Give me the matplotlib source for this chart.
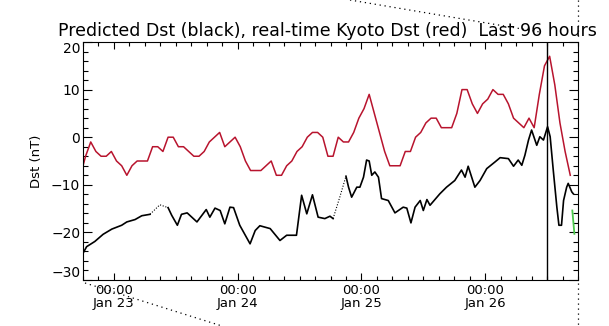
import numpy as np
import matplotlib
matplotlib.use("Agg")
import matplotlib.pyplot as plt
from matplotlib.ticker import FixedLocator, MultipleLocator
from matplotlib.lines import Line2D

# hours since Jan 22 18:00 UT
kyoto_hours = np.arange(-1, 95) + 0.5
kyoto_dst = [-8, -4, -1, -3, -4, -4, -3, -5, -6, -8, -6, -5, -5, -5, -2, -2,
             -3, 0, 0, -2, -2, -3, -4, -4, -3, -1, 0, 1, -2, -1, 0, -2,
             -5, -7, -7, -7, -6, -5, -8, -8, -6, -5, -3, -2, 0, 1, 1, 0,
             -4, -4, 0, -1, -1, 1, 4, 6, 9, 5, 1, -3, -6, -6, -6, -3,
             -3, 0, 1, 3, 4, 4, 2, 2, 2, 5, 10, 10, 7, 5, 7, 8,
             10, 9, 9, 7, 4, 3, 2, 4, 2, 9, 15, 17, 11, 3, -3, -8]

pred_hours = [0, 0.7, 2.3, 3.9, 5.6, 7.5, 8.5, 10.1, 11.4, 13.0,
              14.9,
              16.5, 17.2, 18.3, 19.1, 20.2, 22.1, 23.9, 24.6, 25.6, 26.6,
              27.5, 28.5, 29.2, 30.4, 32.4, 33.4, 34.3, 36.3, 38.2, 39.5,
              41.4, 42.4, 43.4, 44.5, 45.6, 46.9, 47.9, 48.5,
              49.8,
              51.0, 51.5, 52.1, 53.1, 53.7, 54.4, 55.0, 55.5, 56.0, 56.6,
              57.3, 57.9, 59.2, 60.5, 62.1, 62.8, 63.6, 64.4, 65.4, 66.0,
              66.7, 67.3, 69.2, 70.5, 72.1, 73.4, 74.1, 74.7, 76.0, 77.0,
              78.3, 79.9, 80.9, 82.5, 83.5, 84.4, 85.1, 85.7, 86.4, 87.0,
              88.0, 88.6, 89.3, 90.1, 90.6, 91.2, 91.9, 92.3, 92.8, 93.2,
              93.8, 94.1, 94.8, 95.1]
pred_dst = [-24.4, -23.0, -21.9, -20.4, -19.3, -18.5, -17.8, -17.3, -16.5, -16.2,
            -14.2,
            -14.8, -16.4, -18.5, -16.2, -15.9, -17.8, -15.2, -16.8, -14.9, -15.4,
            -18.2, -14.7, -14.8, -18.5, -22.4, -19.6, -18.6, -19.2, -21.7, -20.6,
            -20.6, -12.2, -16.1, -12.1, -16.8, -17.1, -16.6, -17.1,
            -12.6,
            -8.2, -10.5, -12.6, -10.5, -10.5, -8.4, -4.8, -5.0, -8.0, -7.3,
            -8.4, -12.9, -13.3, -15.9, -14.7, -14.9, -18.0, -14.7, -13.3, -15.4,
            -13.1, -14.3, -11.9, -10.5, -9.1, -6.9, -8.4, -6.1, -10.5, -9.1,
            -6.6, -5.2, -4.3, -4.5, -6.1, -4.8, -5.9, -3.8, -0.6, 1.5,
            -1.7, 0.1, -0.6, 2.2, 0.1, -6.9, -14.7, -18.5, -18.5, -13.3,
            -10.5, -9.7, -11.5, -11.9]
# stretches with no solar wind input, drawn dotted
pred_gaps = [(13.0, 16.5), (48.5, 51.0)]

now_hour = 90.0
range_hours = [94.9, 95.3]
range_dst = [-15.4, -20.3]

day_ticks = [6, 30, 54, 78]
day_labels = ["00:00\nJan 23", "00:00\nJan 24", "00:00\nJan 25", "00:00\nJan 26"]
dst_ticks = [-30, -20, -10, 0, 10, 20]

fig = plt.figure(figsize=(6.09, 3.26), dpi=100)
ax = fig.add_axes([83 / 609, 1 - 280 / 326, 495 / 609, 238 / 326])

ph = np.array(pred_hours)
pv = np.array(pred_dst)
in_gap = np.zeros(len(ph), bool)
for a, b in pred_gaps:
    in_gap |= (ph > a) & (ph < b)
solid = np.where(in_gap, np.nan, pv)
ax.plot(ph, solid, color="black", lw=1.2)
for a, b in pred_gaps:
    m = (ph >= a) & (ph <= b)
    ax.plot(ph[m], pv[m], color="black", lw=0.8, ls=(0, (1, 1.5)))

ax.plot(kyoto_hours, kyoto_dst, color="#b8142e", lw=1.1)
ax.axvline(now_hour, color="black", lw=1.0)
ax.plot(range_hours, range_dst, color="#4cc94c", lw=1.3)

ax.set_xlim(0, 96)
ax.set_ylim(-30, 20)
ax.xaxis.set_major_locator(FixedLocator(day_ticks))
ax.set_xticklabels(day_labels, fontsize=9.5, linespacing=0.95)
ax.xaxis.set_minor_locator(MultipleLocator(3))
ax.yaxis.set_major_locator(FixedLocator(dst_ticks))
ax.yaxis.set_minor_locator(MultipleLocator(2))
ax.tick_params(axis="y", labelsize=10)
ax.tick_params(which="both", direction="in", top=True, right=True,
               width=0.8, color="black")
ax.tick_params(axis="y", which="major", length=6.5, pad=2)
ax.tick_params(axis="y", which="minor", length=3.5)
ax.tick_params(axis="x", which="major", length=5, pad=3)
ax.tick_params(axis="x", which="minor", length=3)
for s in ax.spines.values():
    s.set_linewidth(0.8)

# keep the end labels inside the axis range
ylabels = ax.get_yticklabels()
ylabels[0].set_va("bottom")
ylabels[-1].set_va("top")

ax.set_ylabel("Dst (nT)", fontsize=9.5)
ax.yaxis.set_label_coords(-0.081, 0.5)
fig.text(58 / 609, 1 - 36 / 326, "Predicted Dst (black), real-time Kyoto Dst (red)  Last 96 hours",
         fontsize=12.5, ha="left", va="baseline")

# dotted frame strokes running outside the plot box
strokes = [((350, 0), (540, 32)), ((578, 0), (578, 37)),
           ((85, 283), (222, 326)), ((578, 283), (578, 326))]
for (x0, y0), (x1, y1) in strokes:
    fig.add_artist(Line2D([x0 / 609, x1 / 609], [1 - y0 / 326, 1 - y1 / 326],
                          transform=fig.transFigure, color="black", lw=0.9,
                          ls=(0, (1, 3))))

fig.savefig("out.png", dpi=100)
